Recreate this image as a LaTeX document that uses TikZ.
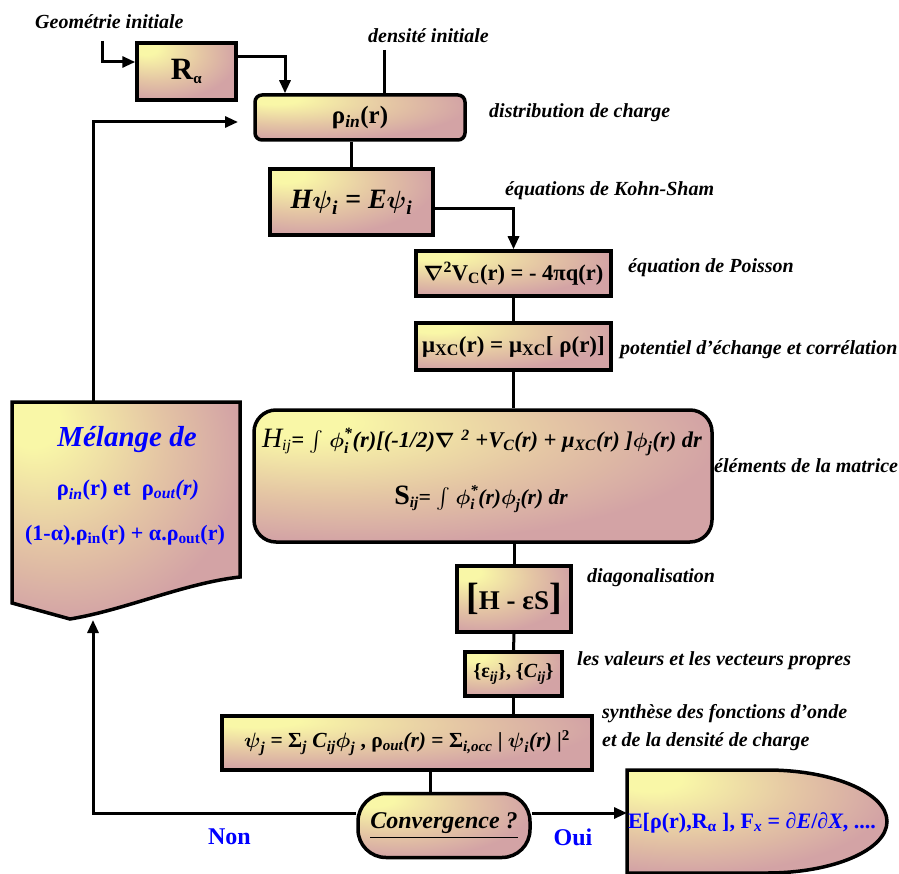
\documentclass[tikz,border=0pt]{standalone}
\usepackage{amsmath}
\usepackage{fontspec}
\setmainfont{Liberation Serif}
\usetikzlibrary{arrows.meta}
\definecolor{cY}{HTML}{F9F7A7}
\definecolor{cT}{HTML}{E4C5A4}
\definecolor{cP}{HTML}{D3A3A5}
\pgfdeclareradialshading{boxshade}{\pgfpoint{-22bp}{22bp}}{color(0bp)=(cY); color(6bp)=(cY); color(24bp)=(cT); color(38bp)=(cP); color(90bp)=(cP)}
\newcommand\fsz[1]{\fontsize{#1}{#1}\selectfont}
\newcommand\sbs[1]{$_{\text{#1}}$}
\newcommand\sps[1]{$^{\text{#1}}$}
\newcommand\ti[1]{\text{\itshape #1}}
\newcommand\bphi{\boldsymbol{\phi}}
\newcommand\bpsi{\boldsymbol{\psi}}
\begin{document}
\begin{tikzpicture}[x=1pt,y=-1pt,
  box/.style={draw, line width=3.5pt, shade, shading=boxshade, inner sep=0pt, font=\bfseries, align=center},
  intext/.style={inner sep=0pt, font=\bfseries},
  conn/.style={line width=3pt},
  arr/.style={conn, -{Triangle[length=13pt,width=11pt]}},
  lbl/.style={anchor=west, font=\fsz{20}\bfseries\itshape, inner sep=0pt},
  blu/.style={text=blue, font=\fsz{24}\bfseries, inner sep=0pt}]
\useasboundingbox (0,0) rectangle (899,874);

% shapes drawn directly
\path[draw, line width=3.5pt, shade, shading=boxshade]
  (12,402) -- (240,402) -- (240,577) .. controls (185,583) and (125,610) .. (70,619) -- (12,603) -- cycle;
\path[draw, line width=3.5pt, shade, shading=boxshade]
  (627,770) -- (767,770) arc[start angle=90, end angle=-90, x radius=120pt, y radius=51.5pt] -- (627,873) -- cycle;

% boxes
\node[box, minimum width=99pt, minimum height=57pt] (R) at (186.5,71.5) {\fsz{31}R\sbs{\fsz{15}α}};
\node[box, rounded corners=7pt, minimum width=210pt, minimum height=45pt] (rhoin) at (360,117.5) {\fsz{25}ρ\sbs{\itshape in}(r)};
\node[box, minimum width=163pt, minimum height=66pt] (H) at (351.5,202) {\fsz{28}\itshape H$\bpsi_{\ti{i}}$ = E$\bpsi_{\ti{i}}$};
\node[box, minimum width=195pt, minimum height=45pt] (pois) at (513.5,273.5) {\fsz{22.5}$\boldsymbol{\nabla}$\sps{2}V\sbs{C}(r) = - 4πq(r)};
\node[box, minimum width=195pt, minimum height=47pt] (mu) at (513.5,346.5) {\fsz{23}μ\sbs{XC}(r) = μ\sbs{XC}[ ρ(r)]};
\node[box, rounded corners=22pt, minimum width=458pt, minimum height=132pt] (mat) at (483,476) {};
\node[intext] (mat1) at (482,442)
  {\fsz{22.5}\itshape {\mdseries\fsz{28}H}\sbs{\mdseries ij}= $\int$ $\bphi_{\ti{i}}^{\text{*}}$(r)[(-1/2)$\boldsymbol{\nabla}$\sps{\, 2} +V\sbs{C}(r) + μ\sbs{XC}(r) ]$\bphi_{\ti{j}}$(r) dr};
\node[intext] (mat2) at (481,499)
  {\fsz{21.5}\itshape {\upshape\fsz{28}S}\sbs{ij}= $\int$ $\bphi_{\ti{i}}^{\text{*}}$(r)$\bphi_{\ti{j}}$(r) dr};
\node[box, minimum width=114pt, minimum height=66pt] (diag) at (514,599) {\fsz{27}{\fsz{38}[}H - εS{\fsz{38}]}};
\node[box, minimum width=97pt, minimum height=44pt] (eig) at (513.5,674) {\fsz{20}\{ε\sbs{\itshape ij}\}, \{\textit{C}\sbs{\itshape ij}\}};
\node[box, minimum width=370pt, minimum height=54pt] (synth) at (407,743)
  {\fsz{21.5}$\bpsi_{\ti{j}}$ = Σ\sbs{\itshape j} \textit{C}\sbs{\itshape ij}$\bphi_{\ti{j}}$ , ρ\sbs{\itshape out}\textit{(r)} = Σ\sbs{\itshape i,occ} | $\bpsi_{\ti{i}}$\textit{(r)} |\sps{2}};
\node[box, rounded corners=28pt, minimum width=172pt, minimum height=64pt] (conv) at (444,825.5) {\fsz{24}\itshape\underline{Convergence ?}};

% texts in drawn shapes
\node[text=blue, inner sep=0pt, font=\fsz{29}\bfseries\itshape] (mel1) at (127,440) {Mélange de};
\node[text=blue, inner sep=0pt, font=\fsz{22.5}\bfseries] (mel2) at (128,490) {ρ\sbs{\itshape in}(r) et \ ρ\sbs{\itshape out}\textit{(r)}};
\node[text=blue, inner sep=0pt, font=\fsz{22}\bfseries] (mel3) at (125,535) {(1-α).ρ\sbs{in}(r) + α.ρ\sbs{out}(r)};
\node[text=blue, inner sep=0pt, font=\fsz{22}\bfseries] (res) at (752,823) {E[ρ(r),R\sbs{α} ], F\sbs{\itshape x} = ∂\textit{E}/∂\textit{X}, ....};

% labels
\node[lbl] (lgeo) at (35,22) {Geométrie initiale};
\node[lbl] (ldens) at (368,36) {densité initiale};
\node[lbl] (ldist) at (489,113) {distribution de charge};
\node[lbl] (lks) at (505,191) {équations de Kohn-Sham};
\node[lbl] (lpois) at (628,268) {équation de Poisson};
\node[lbl] (lpot) at (620,350) {potentiel d'échange et corrélation};
\node[lbl] (lmat) at (714,466) {éléments de la matrice};
\node[lbl] (ldiag) at (587,578) {diagonalisation};
\node[lbl] (lval) at (577,661) {les valeurs et les vecteurs propres};
\node[lbl] (lsyn1) at (602,714) {synthèse des fonctions d'onde};
\node[lbl] (lsyn2) at (602,742) {et de la densité de charge};
\node[blu] (non) at (229.5,837) {Non};
\node[blu] (oui) at (573,837) {Oui};

% connectors
\coordinate (geo) at (102,41);
\coordinate (dens) at (384,50);
\coordinate (cx) at (430,0);
\coordinate (cy) at (0,813);
\coordinate (resw) at (627,813);
\coordinate (melbot) at (93,620);
\coordinate (meltop) at (93,402);
\coordinate (rhoarr) at (238,122);
\draw[arr] (geo) |- ([yshift=9.5pt]R.west);
\draw[arr] ([yshift=14.5pt]R.east) -| ([xshift=-75pt]rhoin.north);
\draw[conn] (dens) -- (dens |- rhoin.north);
\draw[conn] (H.north |- rhoin.south) -- (H.north);
\draw[arr] ([yshift=-7pt]H.east) -| (pois.north);
\draw[conn] (pois.south) -- (mu.north);
\draw[conn] (mu.south) -- (mu.south |- mat.north);
\draw[conn] (diag.north |- mat.south) -- (diag.north);
\draw[conn] (diag.south) -- (eig.north);
\draw[conn] (eig.south) -- (eig.south |- synth.north);
\draw[conn] (cx |- synth.south) -- (cx |- conv.north);
\draw[arr] (conv.east |- cy) -- (resw);
\draw[arr] (conv.west |- cy) -| (melbot);
\draw[arr] (meltop) |- (rhoarr);
\end{tikzpicture}
\end{document}
